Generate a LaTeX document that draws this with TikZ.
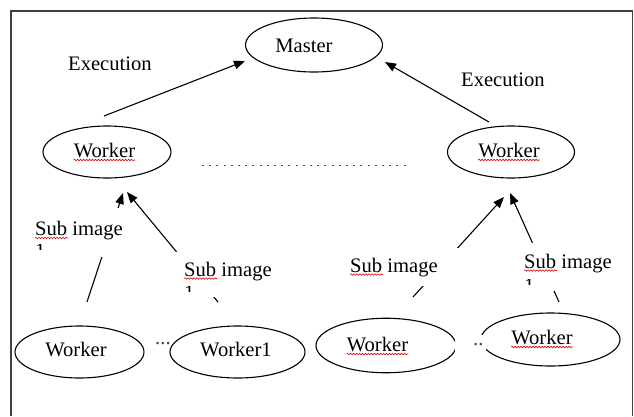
\documentclass[tikz,border=0pt]{standalone}
\usepackage{fontspec}
\setmainfont{Liberation Serif}
\usetikzlibrary{arrows.meta,decorations.pathmorphing,shapes.geometric}
\begin{document}
\begin{tikzpicture}[x=1pt,y=-1pt,
  txt/.style={inner sep=0pt,anchor=base,font=\fontsize{20.6}{24.7}\selectfont},
  ell/.style={draw=black,line width=1.1pt,ellipse,inner sep=0pt},
  arr/.style={draw=black,line width=1.1pt,-{Triangle[length=11pt,width=8.5pt]}},
  gap/.style={fill=white,inner sep=0pt,anchor=north west},
  spell/.style={draw=red!85!black,line width=0.55pt,decorate,decoration={snake,amplitude=0.8pt,segment length=3pt}},
  frame/.style={draw=black!75,line width=1.3pt}]
\useasboundingbox (0,0) rectangle (634,416);
\draw[frame] (11,416) -- (11,11) -- (632.5,11) -- (632.5,416);

% ellipses
\node[ell,minimum width=137pt,minimum height=54pt] (master) at (314,45) {};
\node[ell,minimum width=128pt,minimum height=52pt] (wtl) at (107,152) {};
\node[ell,minimum width=127pt,minimum height=52pt] (wtr) at (511,152) {};
\node[ell,minimum width=129pt,minimum height=52pt] (wbl) at (79.5,352) {};
\node[ell,minimum width=135pt,minimum height=52pt] (wb1) at (237.5,352) {};
\node[ell,minimum width=140pt,minimum height=54.5pt] (wbr) at (386,345.5) {};
\node[ell,minimum width=139pt,minimum height=53pt] (wlast) at (550.5,339.5) {};

% arrow end points
\coordinate (a1s) at (104,116); \coordinate (a1e) at (245,61);
\coordinate (a2s) at (489,122); \coordinate (a2e) at (385,62);
\coordinate (b1s) at (87,302);  \coordinate (b1e) at (123,193);
\coordinate (b2s) at (218,302); \coordinate (b2e) at (127,192);
\coordinate (b3s) at (413,297); \coordinate (b3e) at (504,197);
\coordinate (b4s) at (559,302); \coordinate (b4e) at (510,193);
\draw[arr] (a1s) -- (a1e);
\draw[arr] (a2s) -- (a2e);
\draw[arr] (b1s) -- (b1e);
\draw[arr] (b2s) -- (b2e);
\draw[arr] (b3s) -- (b3e);
\draw[arr] (b4s) -- (b4e);

% white boxes of the labels, hiding the middle of the arrows
\node[gap,minimum width=92pt,minimum height=49pt] (g1) at (33,208) {};
\node[gap,minimum width=100pt,minimum height=45pt] (g2) at (176,252) {};
\node[gap,minimum width=112pt,minimum height=38pt] (g3) at (348,248) {};
\node[gap,minimum width=92pt,minimum height=48pt] (g4) at (522,243) {};
\node[gap,minimum width=31pt,minimum height=18pt] (g5) at (455,335) {};

% dotted line
\coordinate (d1) at (202,165); \coordinate (d2) at (410,165);
\draw[black!70,line width=1pt,dash pattern=on 2pt off 5.2pt] (d1) -- (d2);

% texts
\node[txt] (tmaster) at (304,52) {Master};
\begin{scope}
  \clip (60,40) rectangle (160,69.3);
  \node[txt,anchor=base west] (ex1) at (68,70.5) {Execution};
\end{scope}
\node[txt,anchor=base west] (ex2) at (461,86) {Execution};
\node[txt] (ttl) at (104.5,157) {Worker};
\node[txt] (ttr) at (509,157) {Worker};
\node[txt] (tbl) at (76,356) {Worker};
\node[txt] (tb1) at (236,356) {Worker1};
\node[txt] (tbr) at (377.5,351) {Worker};
\node[txt] (tlast) at (542,344) {Worker};
\node[txt,anchor=base west] (s1) at (35,235.5) {Sub image};
\node[txt,anchor=base west] (s2) at (184,276) {Sub image};
\node[txt,anchor=base west] (s3) at (350,272) {Sub image};
\node[txt,anchor=base west] (s4) at (524,268) {Sub image};
\node[txt,anchor=base west,text=black!75] (dots1) at (155,344.5) {...};
\node[txt,anchor=base west,text=black!75] (dots2) at (473,345.5) {..};

% clipped second lines of the labels
\begin{scope}
  \clip (30,244) rectangle (50,249);
  \node[txt,anchor=north west] (one1) at (35,244) {1};
\end{scope}
\begin{scope}
  \clip (180,286) rectangle (200,291);
  \node[txt,anchor=north west] (one2) at (184,286) {1};
\end{scope}
\begin{scope}
  \clip (520,279) rectangle (540,284);
  \node[txt,anchor=north west] (one4) at (524,279) {1};
\end{scope}

% spell-check underlines
\draw[spell] ([yshift=-3pt]ttl.base west) -- ([yshift=-3pt]ttl.base east);
\draw[spell] ([yshift=-3pt]ttr.base west) -- ([yshift=-3pt]ttr.base east);
\draw[spell] ([yshift=-3pt]tbr.base west) -- ([yshift=-3pt]tbr.base east);
\draw[spell] ([yshift=-3pt]tlast.base west) -- ([yshift=-3pt]tlast.base east);
\draw[spell] ([yshift=-2.5pt]s1.base west) -- ++(33,0);
\draw[spell] ([yshift=-2.5pt]s2.base west) -- ++(33,0);
\draw[spell] ([yshift=-2.5pt]s3.base west) -- ++(33,0);
\draw[spell] ([yshift=-2.5pt]s4.base west) -- ++(33,0);
\end{tikzpicture}
\end{document}
